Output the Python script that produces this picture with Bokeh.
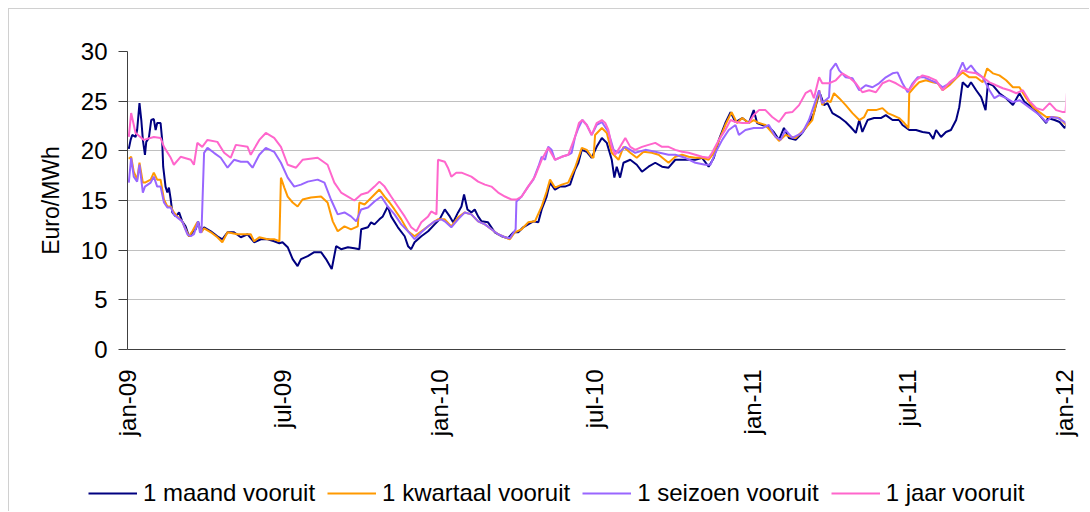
import datetime as dt
from math import pi

from bokeh.plotting import figure
from bokeh.models import FixedTicker, Legend, LegendItem, Range1d
from bokeh.embed import file_html
from bokeh.resources import INLINE

# ---------------- data (months since 1 Jan 2009, EUR/MWh) ----------------
series_names = ["1 maand vooruit", "1 kwartaal vooruit", "1 seizoen vooruit", "1 jaar vooruit"]

t_maand = [0.05,0.12,0.18,0.31,0.37,0.46,0.53,0.59,0.67,0.72,0.82,0.91,1.01,1.08,1.14,1.27,1.33,1.37,1.46,1.53,
           1.59,1.66,1.72,1.85,1.98,2.10,2.23,2.36,2.49,2.62,2.71,2.81,2.94,3.07,3.20,3.45,3.64,3.84,4.09,4.35,
           4.61,4.86,5.12,5.38,5.63,5.83,5.95,6.15,6.34,6.53,6.66,6.92,7.17,7.43,7.62,7.84,8.01,8.20,8.46,8.71,
           8.90,8.97,9.23,9.35,9.48,9.67,9.80,9.99,10.12,10.38,10.64,10.77,10.89,11.02,11.28,11.54,11.79,11.98,12.18,12.37,
           12.50,12.69,12.82,12.92,13.05,13.20,13.33,13.46,13.59,13.84,14.10,14.36,14.61,14.81,15.00,15.19,15.38,15.58,15.77,15.90,
           16.09,16.22,16.41,16.60,16.79,16.99,17.18,17.31,17.44,17.63,17.82,18.01,18.21,18.40,18.59,18.69,18.78,18.91,19.04,19.30,
           19.55,19.75,20.00,20.26,20.52,20.77,21.03,21.29,21.54,21.80,22.06,22.31,22.51,22.70,22.95,23.15,23.34,23.60,23.85,24.04,
           24.17,24.37,24.62,24.81,25.01,25.20,25.39,25.65,25.90,26.16,26.35,26.55,26.61,26.74,26.87,27.06,27.32,27.57,27.76,27.96,
           28.09,28.21,28.41,28.66,28.92,29.11,29.37,29.62,29.75,30.01,30.27,30.52,30.78,30.93,31.04,31.23,31.42,31.61,31.81,31.93,
           32.06,32.26,32.38,32.58,32.77,32.94,33.03,33.22,33.47,33.73,33.99,34.24,34.44,34.76,35.01,35.27,35.33,35.59,35.78,35.98,
           36.05]
v_maand = [20.2,21.1,21.6,21.4,22.1,24.8,23.1,21.1,19.6,20.9,21.3,23.1,23.2,22.1,22.8,22.8,21.1,18.4,16.4,15.8,
           16.3,15.1,13.8,13.4,13.8,12.9,12.4,11.4,11.8,12.1,12.9,11.8,12.3,12.1,11.9,11.4,11.1,11.8,11.8,11.3,
           11.6,10.8,11.1,11.1,10.9,10.7,10.8,10.3,9.1,8.4,9.1,9.4,9.8,9.8,9.1,8.1,10.4,10.1,10.3,10.2,
           10.1,12.1,12.3,12.8,12.6,13.1,13.4,14.4,13.4,12.3,11.4,10.4,10.1,10.8,11.4,11.9,12.6,13.1,14.1,13.4,
           12.8,13.8,14.4,15.6,14.1,13.8,14.1,13.4,12.9,12.8,11.8,11.4,11.2,11.8,11.8,12.3,12.6,12.9,12.8,14.1,
           15.4,16.8,16.1,16.4,16.4,16.6,18.1,18.8,20.1,19.9,19.3,20.4,21.3,20.8,19.1,17.3,18.4,17.3,18.8,19.1,
           18.6,17.9,18.4,18.8,18.4,18.3,19.1,19.1,19.1,19.1,19.3,18.4,19.3,21.1,22.8,23.9,22.9,23.3,22.8,24.1,
           22.8,22.6,22.4,21.9,21.1,22.3,21.3,21.1,21.8,22.8,23.8,25.8,25.6,24.6,24.8,23.8,23.4,22.9,22.4,21.8,
           23.1,21.9,23.1,23.3,23.3,23.6,23.1,23.1,22.6,22.1,22.1,21.9,21.8,21.2,22.1,21.4,21.9,22.1,23.1,24.4,
           26.9,26.4,26.9,26.1,25.4,24.1,26.8,26.6,25.8,25.3,24.6,25.8,24.9,24.3,23.6,22.8,23.3,23.1,22.9,22.3,
           22.6]

t_kwartaal = [0.05,0.14,0.24,0.37,0.46,0.59,0.67,0.89,1.01,1.14,1.27,1.40,1.53,1.66,1.78,1.91,2.10,2.23,2.36,2.49,
              2.68,2.84,2.94,3.20,3.45,3.64,3.84,4.22,4.48,4.73,4.86,5.06,5.38,5.63,5.83,5.89,6.02,6.15,6.34,6.53,
              6.72,7.04,7.43,7.68,7.88,8.07,8.33,8.58,8.84,8.90,9.10,9.29,9.48,9.67,9.87,10.06,10.25,10.51,10.77,11.02,
              11.28,11.54,11.79,11.92,12.18,12.43,12.69,12.95,13.20,13.46,13.72,13.97,14.23,14.49,14.68,14.87,15.13,15.38,15.64,15.90,
              16.09,16.22,16.41,16.67,16.92,17.18,17.44,17.63,17.82,17.89,17.95,18.21,18.40,18.59,18.85,19.04,19.30,19.55,19.81,20.13,
              20.39,20.77,21.03,21.29,21.54,21.80,22.06,22.31,22.51,22.70,22.95,23.19,23.40,23.60,23.85,24.04,24.24,24.49,24.75,25.01,
              25.26,25.65,26.03,26.29,26.55,26.67,26.80,26.99,27.12,27.32,27.57,27.83,28.09,28.28,28.41,28.73,28.98,29.18,29.37,29.62,
              29.82,29.98,30.01,30.20,30.39,30.65,30.91,31.10,31.29,31.55,31.81,32.06,32.32,32.58,32.83,33.00,33.22,33.47,33.73,33.99,
              34.24,34.50,34.76,35.01,35.27,35.53,35.78,36.04]
v_kwartaal = [19.2,19.4,17.9,17.1,18.8,16.8,16.8,17.1,17.8,17.1,17.1,15.1,14.4,14.4,13.8,13.4,12.9,12.1,11.4,11.9,
              12.8,11.8,12.2,11.8,11.3,10.8,11.8,11.6,11.6,11.6,10.9,11.3,11.1,11.1,10.9,17.3,16.3,15.4,14.8,14.4,
              15.1,15.3,15.4,14.8,12.9,11.9,12.4,12.1,12.4,14.8,14.6,15.1,15.6,16.1,15.4,14.8,14.1,13.1,11.9,11.4,
              11.9,12.4,12.9,13.1,13.1,12.4,13.3,13.8,13.6,12.9,12.6,12.1,11.6,11.3,11.1,11.8,12.1,12.8,12.9,14.4,
              15.9,17.1,16.3,16.6,16.8,18.3,20.3,20.1,19.4,19.3,21.6,22.3,21.8,19.8,19.1,20.4,19.8,19.3,19.9,19.8,
              19.6,18.8,19.4,19.6,19.4,19.3,19.3,19.1,19.8,21.0,22.6,23.9,22.8,23.3,22.8,23.1,22.8,22.6,21.8,21.0,
              21.6,21.3,22.3,23.1,26.1,24.6,25.1,24.9,25.8,25.3,24.6,23.8,23.1,23.4,24.1,24.1,24.3,23.8,23.6,23.3,
              22.8,22.3,25.8,26.4,26.9,27.1,26.9,26.8,26.1,26.6,27.3,27.9,27.4,27.4,26.9,28.3,27.8,27.6,27.1,26.4,
              26.4,25.3,24.4,23.9,23.4,23.4,23.3,22.6]

t_seizoen = [0.05,0.14,0.24,0.37,0.46,0.59,0.67,0.89,1.01,1.14,1.27,1.40,1.53,1.66,1.78,1.91,2.10,2.30,2.43,2.55,
             2.71,2.78,2.84,2.94,3.07,3.32,3.58,3.84,4.09,4.35,4.61,4.80,5.06,5.31,5.63,5.89,6.15,6.40,6.66,6.92,
             7.30,7.56,7.81,8.07,8.33,8.58,8.78,8.97,9.23,9.48,9.74,9.99,10.25,10.51,10.77,11.02,11.28,11.54,11.79,12.05,
             12.18,12.43,12.69,12.95,13.20,13.46,13.72,13.97,14.23,14.49,14.68,14.90,14.93,15.13,15.38,15.58,15.77,15.90,16.03,16.15,
             16.28,16.41,16.67,16.92,17.05,17.18,17.31,17.46,17.63,17.82,18.01,18.21,18.46,18.66,18.85,19.11,19.49,19.88,20.26,20.77,
             21.03,21.41,21.80,22.18,22.38,22.57,22.83,23.08,23.34,23.47,23.72,24.04,24.37,24.62,24.88,25.07,25.26,25.52,25.90,26.16,
             26.55,26.67,26.93,26.99,27.19,27.32,27.57,27.83,28.09,28.34,28.60,28.85,29.11,29.37,29.56,29.75,29.95,30.14,30.33,30.59,
             30.84,31.10,31.29,31.55,31.81,32.06,32.19,32.38,32.58,32.83,33.09,33.28,33.47,33.73,33.99,34.24,34.50,34.76,35.01,35.27,
             35.46,35.72,35.98,36.05]
v_seizoen = [16.8,19.3,17.4,16.9,18.6,15.8,16.4,16.8,17.4,16.4,16.4,14.8,14.3,14.3,13.6,13.3,12.9,11.6,11.4,11.6,
             12.9,11.8,11.8,19.8,20.3,19.8,19.3,18.3,19.1,18.9,18.9,18.3,19.6,20.3,19.9,18.8,17.3,16.4,16.6,16.9,
             17.1,16.8,15.1,13.6,13.8,13.4,12.9,14.1,14.3,14.9,15.4,14.4,13.6,12.6,11.9,11.1,11.8,12.4,12.9,13.1,
             12.9,12.3,13.1,13.8,13.6,12.9,12.6,12.1,11.6,11.3,11.2,12.1,14.9,15.4,16.4,17.1,18.4,19.4,19.1,20.4,
             20.1,19.1,19.4,19.6,19.8,21.4,22.3,23.1,22.6,21.6,22.6,22.9,21.9,20.1,19.8,20.4,19.8,20.1,19.9,19.6,
             19.6,19.3,18.8,18.6,18.6,19.8,21.1,22.1,22.6,21.6,22.1,22.3,22.3,22.6,21.4,21.1,22.1,21.3,21.8,23.1,
             26.1,24.8,25.4,28.1,28.8,28.1,27.4,27.3,26.1,26.6,26.4,26.8,27.4,27.8,27.9,26.8,25.9,26.8,27.4,27.4,
             27.1,26.8,26.4,26.8,27.4,28.9,28.1,28.6,27.9,27.4,26.1,25.3,25.6,25.3,24.9,25.1,24.6,24.1,23.6,22.9,
             23.4,23.3,22.9,22.6]

t_jaar = [0.05,0.14,0.31,0.63,1.01,1.27,1.40,1.66,1.78,2.04,2.43,2.55,2.68,2.87,3.07,3.45,3.71,3.96,4.16,4.61,
          4.73,5.06,5.31,5.63,5.89,6.15,6.47,6.72,7.30,7.68,7.94,8.20,8.46,8.71,8.97,9.23,9.48,9.67,9.87,10.12,
          10.38,10.64,10.89,11.09,11.28,11.54,11.66,11.86,11.92,12.18,12.30,12.43,12.62,12.82,13.01,13.20,13.46,13.72,13.97,14.23,
          14.49,14.74,14.93,15.13,15.38,15.64,15.90,16.15,16.41,16.67,16.92,17.18,17.33,17.46,17.63,17.82,18.01,18.21,18.34,18.46,
          18.59,18.72,18.91,19.11,19.30,19.49,19.75,20.00,20.26,20.52,20.77,21.03,21.29,21.54,21.80,22.06,22.31,22.44,22.70,22.95,
          23.15,23.34,23.60,23.85,24.04,24.24,24.49,24.75,25.01,25.26,25.52,25.78,26.03,26.23,26.35,26.55,26.67,26.93,27.19,27.44,
          27.70,27.96,28.21,28.47,28.73,28.98,29.24,29.50,29.75,30.01,30.27,30.52,30.78,31.04,31.29,31.55,31.81,32.06,32.32,32.58,
          32.83,33.09,33.34,33.60,33.86,34.12,34.37,34.63,34.89,35.14,35.40,35.65,35.91,36.01,36.06]
v_jaar = [21.4,23.8,21.8,21.1,21.4,21.3,20.4,19.3,18.6,19.4,19.1,18.6,20.8,20.4,21.1,20.9,19.8,19.3,20.6,20.4,
          19.6,21.1,21.8,21.3,20.4,18.6,18.3,19.1,19.3,18.6,16.8,15.8,15.4,15.0,15.6,15.8,16.4,16.9,16.4,15.4,
          14.4,13.4,12.3,11.9,12.8,13.4,13.9,13.6,19.1,18.9,18.3,17.4,17.8,17.8,17.6,17.4,16.9,16.6,16.4,15.8,
          15.4,15.1,15.1,15.4,16.4,17.4,19.1,20.3,19.1,19.4,19.6,21.4,22.8,23.1,22.6,21.6,22.8,23.1,22.8,22.1,
          20.4,19.6,20.4,21.3,20.4,20.1,20.4,20.6,20.8,20.4,20.4,20.1,19.9,19.8,19.6,19.4,19.3,19.8,21.1,22.1,
          23.1,22.9,22.8,22.8,23.6,24.1,24.1,23.4,22.9,23.8,23.9,24.6,25.8,26.1,25.3,27.4,26.8,26.8,27.1,27.8,
          27.4,26.8,25.9,26.1,25.9,26.8,27.1,26.8,26.4,26.1,27.1,27.6,27.4,27.1,26.1,26.9,27.4,28.1,27.9,27.8,
          27.4,26.9,26.6,26.3,26.1,25.8,26.1,25.0,24.3,24.1,24.8,24.1,23.9,23.9,25.8]

tick_dates = ["2009-01-01", "2009-07-01", "2010-01-01", "2010-07-01", "2011-01-01", "2011-07-01", "2012-01-01"]
tick_labels = ["jan-09", "jul-09", "jan-10", "jul-10", "jan-11", "jul-11", "jan-12"]
y_ticks = [0, 5, 10, 15, 20, 25, 30]

colors = ["#000080", "#FF9900", "#9966FF", "#FF66CC"]

for a, b in [(t_maand, v_maand), (t_kwartaal, v_kwartaal), (t_seizoen, v_seizoen), (t_jaar, v_jaar)]:
    assert len(a) == len(b), (len(a), len(b))

BASE = dt.datetime(2009, 1, 1)
EPOCH = dt.datetime(1970, 1, 1)


def to_dates(months):
    return [BASE + dt.timedelta(days=m * 365.25 / 12) for m in months]


def to_ms(d):
    return (d - EPOCH).total_seconds() * 1000.0


FONT = "Liberation Sans"
BORDER = "1px solid #d0d0d0"

# ---------------- main chart ----------------
p = figure(width=1081, height=461, x_axis_type="datetime",
           x_range=Range1d(to_ms(dt.datetime(2009, 1, 1)), to_ms(dt.datetime(2012, 1, 2))),
           y_range=Range1d(0, 30),
           output_backend="svg", toolbar_location=None,
           min_border_left=118, min_border_right=25, min_border_top=42, min_border_bottom=121)

p.outline_line_color = None
p.background_fill_color = "white"
p.border_fill_color = "white"
p.xgrid.visible = False
p.ygrid.grid_line_color = "#c0c0c0"
p.ygrid.grid_line_width = 1

series = [(t_maand, v_maand), (t_kwartaal, v_kwartaal), (t_seizoen, v_seizoen), (t_jaar, v_jaar)]
for (tt, vv), c in zip(series, colors):
    p.line(to_dates(tt), vv, line_color=c, line_width=2)

# y axis
ya = p.yaxis[0]
ya.ticker = FixedTicker(ticks=y_ticks, minor_ticks=[])
ya.major_tick_out = 9
ya.major_tick_in = 0
ya.minor_tick_out = 0
ya.minor_tick_in = 0
ya.axis_line_color = "#404040"
ya.major_tick_line_color = "#404040"
ya.major_label_text_font = FONT
ya.major_label_text_font_size = "24px"
ya.major_label_text_color = "black"
ya.major_label_standoff = 11
ya.axis_label = "Euro/MWh"
ya.axis_label_text_font = FONT
ya.axis_label_text_font_size = "23px"
ya.axis_label_text_font_style = "normal"
ya.axis_label_text_color = "black"
ya.axis_label_standoff = 14

# x axis
xa = p.xaxis[0]
tick_ms = [to_ms(dt.datetime.strptime(s, "%Y-%m-%d")) for s in tick_dates]
xa.ticker = FixedTicker(ticks=tick_ms, minor_ticks=[])
xa.major_label_overrides = {int(m): lab for m, lab in zip(tick_ms, tick_labels)}
xa.major_tick_out = 0
xa.major_tick_in = 0
xa.minor_tick_out = 0
xa.minor_tick_in = 0
xa.axis_line_color = "#404040"
xa.major_label_orientation = pi / 2
xa.major_label_text_font = FONT
xa.major_label_text_font_size = "24px"
xa.major_label_text_color = "black"
xa.major_label_standoff = 20

p.styles = {"margin-left": "8px", "margin-top": "8px", "border-left": BORDER, "border-top": BORDER}

# ---------------- legend strip (separate root, own frame) ----------------
lg = figure(width=1081, height=42, x_range=Range1d(0, 1), y_range=Range1d(0, 1),
            output_backend="svg", toolbar_location=None,
            x_axis_location=None, y_axis_location=None,
            min_border_left=0, min_border_right=0, min_border_top=0, min_border_bottom=0)
lg.outline_line_color = None
lg.xgrid.visible = False
lg.ygrid.visible = False
lg.border_fill_color = "white"
lg.background_fill_color = "white"

# legend-only renderers, placed outside the visible range of the strip
dummies = [lg.line(x=[5, 6], y=[5, 6], line_color=c, line_width=2) for c in colors]
legend = Legend(items=[LegendItem(label=n, renderers=[r]) for n, r in zip(series_names, dummies)],
                orientation="horizontal", location=(88 - 9, 4),
                label_text_font=FONT, label_text_font_size="24px", label_text_color="black",
                glyph_width=49, glyph_height=20, label_standoff=6, spacing=12,
                padding=0, margin=0, border_line_color=None, background_fill_alpha=0)
lg.add_layout(legend, "center")
lg.styles = {"margin-left": "8px", "border-left": BORDER}

open("out.html", "w").write(file_html([p, lg], INLINE))
